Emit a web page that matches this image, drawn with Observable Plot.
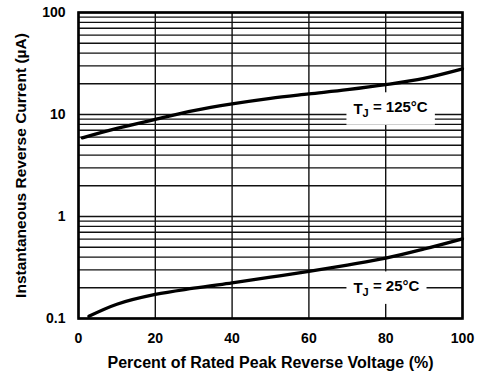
<!DOCTYPE html>
<html>
<head>
<meta charset="utf-8">
<script src="https://cdn.jsdelivr.net/npm/d3@7"></script>
<script src="https://cdn.jsdelivr.net/npm/@observablehq/plot@0.6"></script>
<style>
  html, body { margin: 0; padding: 0; background: #fff; }
  #chart svg { display: block; }
</style>
</head>
<body>
<div id="chart"></div>
<script>
// ---- data ----
const pct125 = [1, 10, 20, 30, 40, 50, 60, 70, 80, 90, 100];
const cur125 = [5.9, 7.3, 8.95, 10.9, 12.7, 14.4, 15.9, 17.5, 19.6, 22.6, 28.0];

const pct25 = [2.7, 10, 20, 30, 40, 50, 60, 70, 80, 90, 100];
const cur25 = [0.105, 0.138, 0.172, 0.198, 0.224, 0.254, 0.289, 0.334, 0.39, 0.48, 0.604];

const xTicks = [0, 20, 40, 60, 80, 100];
const yTicks = [0.1, 1, 10, 100];
const yTickLabels = ["0.1", "1", "10", "100"];
const yGrid = [0.1, 0.2, 0.3, 0.4, 0.5, 0.6, 0.7, 0.8, 0.9,
               1, 2, 3, 4, 5, 6, 7, 8, 9,
               10, 20, 30, 40, 50, 60, 70, 80, 90, 100];

const curveLabels = ["T_J = 125°C", "T_J = 25°C"];
const labelPct = [71.6, 71.6];
const labelCur = [11.4, 0.2];

const xTitle = "Percent of Rated Peak Reverse Voltage (%)";
const yTitle = "Instantaneous Reverse Current (µA)";

// ---- tables ----
const s125 = pct125.map((p, i) => ({p, c: cur125[i]}));
const s25 = pct25.map((p, i) => ({p, c: cur25[i]}));
const labels = curveLabels.map((t, i) => ({t, p: labelPct[i], c: labelCur[i]}));

const chart = Plot.plot({
  width: 478,
  height: 375,
  marginTop: 12,
  marginRight: 16,
  marginBottom: 57,
  marginLeft: 78,
  style: {
    fontFamily: "'Liberation Sans', Arial, Helvetica, sans-serif",
    fontSize: "14px",
    fontWeight: "bold",
    color: "#000",
    background: "#fff",
    overflow: "visible"
  },
  x: {
    domain: [0, 100],
    ticks: xTicks,
    tickSize: 0,
    tickPadding: 15,
    label: xTitle,
    labelAnchor: "center",
    labelArrow: "none",
    labelOffset: 49
  },
  y: {
    type: "log",
    domain: [0.1, 100],
    ticks: yTicks,
    tickFormat: d => yTickLabels[yTicks.indexOf(d)],
    tickSize: 0,
    tickPadding: 13,
    label: yTitle,
    labelAnchor: "center",
    labelArrow: "none",
    labelOffset: 64
  },
  marks: [
    Plot.ruleY(yGrid, {stroke: "#111", strokeWidth: 1.4}),
    Plot.ruleX(xTicks, {stroke: "#111", strokeWidth: 1.4}),
    Plot.text(labels, {x: "p", y: "c", text: "t", textAnchor: "start", fontSize: 15, fontWeight: "bold", fill: "#000"}),
    Plot.line(s125, {x: "p", y: "c", stroke: "#000", strokeWidth: 3.3, curve: "catmull-rom"}),
    Plot.line(s25, {x: "p", y: "c", stroke: "#000", strokeWidth: 3.3, curve: "catmull-rom"}),
    Plot.frame({stroke: "#000", strokeWidth: 2.6})
  ]
});

document.getElementById("chart").appendChild(chart);

// ---- post-process: strip arrows, title sizes, subscript J, white label boxes ----
d3.select(chart).selectAll("text").each(function() {
  const el = d3.select(this);
  let txt = this.textContent;
  if (txt.includes(xTitle) || txt.includes(yTitle)) {
    const clean = txt.includes(xTitle) ? xTitle : yTitle;
    if (txt !== clean) el.text(clean);
    el.style("font-size", txt.includes(xTitle) ? "16px" : "15.5px");
  }
  if (curveLabels.includes(txt)) {
    const rest = txt.slice(3);
    el.text(null);
    el.append("tspan").text("T");
    el.append("tspan").attr("font-size", "11px").attr("dy", "0.3em").text("J");
    el.append("tspan").attr("dy", "-0.3em").text(rest);
    const bb = this.getBBox();
    const padX = 7, padY = 6;
    d3.select(this.parentNode).insert("rect", () => this)
      .attr("x", bb.x - padX).attr("y", bb.y - padY)
      .attr("width", bb.width + 2 * padX).attr("height", bb.height + 2 * padY)
      .attr("transform", this.getAttribute("transform"))
      .attr("fill", "#fff");
  }
});
</script>
</body>
</html>
